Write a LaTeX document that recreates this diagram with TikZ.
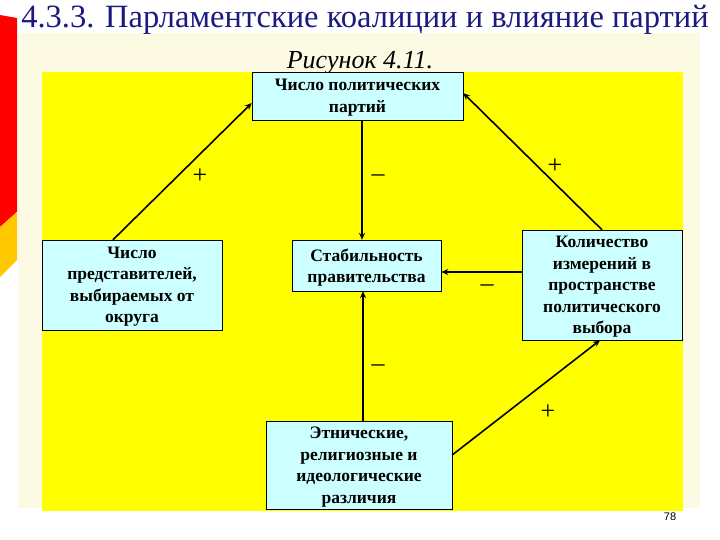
\documentclass[tikz,border=0pt]{standalone}
\usepackage{fontspec}
\setmainfont{Liberation Serif}
\newfontfamily\pagenofont{Liberation Sans}
\usetikzlibrary{arrows.meta}
\definecolor{boxfill}{HTML}{CCFFFF}
\definecolor{slideyellow}{HTML}{FFFF00}
\definecolor{cream}{HTML}{FCFAE2}
\definecolor{titleblue}{HTML}{1A1A80}
\definecolor{stripered}{HTML}{FF0000}
\definecolor{stripeorange}{HTML}{FFC800}
\tikzset{
  factor/.style={draw, fill=boxfill, align=center, inner sep=2pt, text depth=-3pt,
    font=\fontsize{17.5}{21.5}\selectfont\bfseries},
  link/.style={-{Stealth[length=7pt,width=6pt]}, line width=1.6pt},
  sign/.style={font=\fontsize{26}{26}\selectfont}
}
\begin{document}
\begin{tikzpicture}[x=1pt, y=-1pt]
\useasboundingbox (0,0) rectangle (720,540);
\fill[white] (0,0) rectangle (720,540);
% background of the slide
\fill[cream] (18,33) rectangle (700,508);
\fill[slideyellow] (42,72) rectangle (683,511);
\fill[stripered] (0,15) -- (17,18) -- (17,212) -- (0,227) -- cycle;
\fill[stripeorange] (0,227) -- (17,212) -- (17,260) -- (0,277) -- cycle;
% titles
\node[text=titleblue, font=\fontsize{32.5}{34}\selectfont] (title) at (365,20) {4.3.3. Парламентские коалиции и влияние партий};
\node[font=\fontsize{26}{27}\selectfont\itshape] (fig) at (360,63) {Рисунок 4.11.};
% factors
\node[factor, minimum width=211pt, minimum height=48pt] (parties) at (357.5,96) {Число политических\\партий};
\node[factor, minimum width=180pt, minimum height=90pt] (deputies) at (132,285) {Число\\представителей,\\выбираемых от\\округа};
\node[factor, minimum width=149pt, minimum height=51pt] (stab) at (366.5,265.5) {Стабильность\\правительства};
\node[factor, minimum width=160pt, minimum height=110pt] (dims) at (602,285) {Количество\\измерений в\\пространстве\\политического\\выбора};
\node[factor, minimum width=186pt, minimum height=88pt] (cleav) at (359,465) {Этнические,\\религиозные и\\идеологические\\различия};
% links
\draw[link] ([xshift=-19pt]deputies.north) -- ([yshift=-7pt]parties.west);
\draw[link] (dims.north) -- ([yshift=3pt]parties.east);
\draw[link] ([xshift=4.5pt]parties.south) -- ([xshift=-4.5pt]stab.north);
\draw[link] ([yshift=13pt]dims.west) -- ([yshift=-6.5pt]stab.east);
\draw[link] ([xshift=4pt]cleav.north) -- ([xshift=-3.5pt]stab.south);
\draw[link] ([yshift=10pt]cleav.east) -- ([xshift=-2pt]dims.south);
% signs
\node[sign] (s1) at (200,176) {+};
\node[sign] (s2) at (555,166) {+};
\node[sign] (s3) at (548,412) {+};
\node[sign] (s4) at (378,178) {–};
\node[sign] (s5) at (487,288) {–};
\node[sign] (s6) at (378,368) {–};
\node[font=\pagenofont\fontsize{11}{12}\selectfont] (pageno) at (670,517) {78};
\end{tikzpicture}
\end{document}
